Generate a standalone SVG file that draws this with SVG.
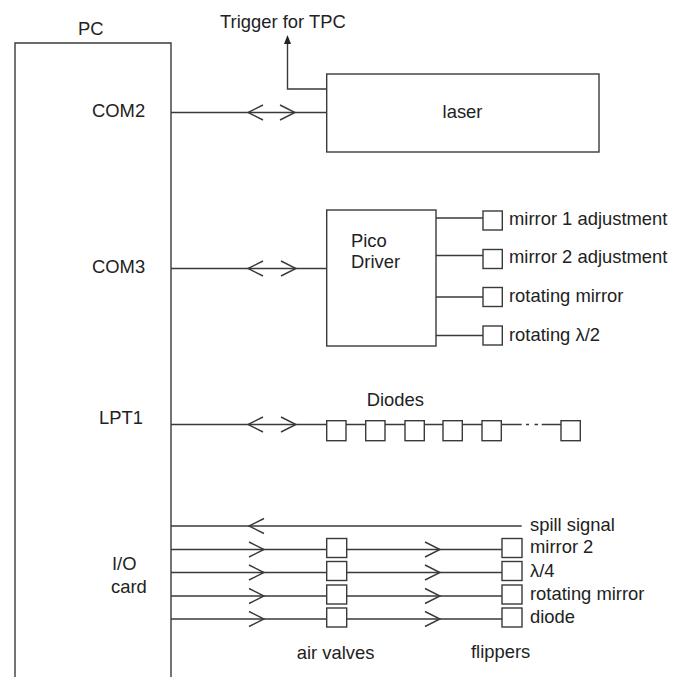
<svg xmlns="http://www.w3.org/2000/svg" width="674" height="677" viewBox="0 0 674 677">
<defs>
<style>
.ln{fill:none;stroke:#3a3a3a;stroke-width:1.4}
.bx{fill:#fff;stroke:#3a3a3a;stroke-width:1.4}
.t{font-family:"Liberation Sans",Arial,sans-serif;font-size:18.4px;fill:#222}
.m{text-anchor:middle}
</style>
</defs>
<rect width="674" height="677" fill="#fff"/>

<g id="connectors">
<!-- trigger -->
<path class="ln" d="M326.7,89 H287.5 V44"/>
<path d="M287.5,35 L284,44 L291,44 Z" fill="#222"/>
<!-- COM2 -->
<path class="ln" d="M171,112.5 H326.7"/>
<polyline class="ln" points="263,105 248,112.5 263,120"/>
<polyline class="ln" points="280,105 295,112.5 280,120"/>
<!-- COM3 -->
<path class="ln" d="M171,268.5 H326.7"/>
<polyline class="ln" points="263,261 248,268.5 263,276"/>
<polyline class="ln" points="281,261 296,268.5 281,276"/>
<!-- Pico outputs -->
<path class="ln" d="M436,218 H483 M436,255.5 H483 M436,297 H483 M436,335.5 H483"/>
<!-- LPT1 -->
<path class="ln" d="M171,424.5 H326.7 M346,424.5 H365.7 M385,424.5 H405 M424.3,424.5 H443 M462.3,424.5 H482 M501.3,424.5 H521.7 M526,424.5 H529 M534.5,424.5 H538 M541.7,424.5 H561"/>
<polyline class="ln" points="263,417 248,424.5 263,432"/>
<polyline class="ln" points="281,417 296,424.5 281,432"/>
<!-- I/O -->
<path class="ln" d="M171,526 H521.7"/>
<polyline class="ln" points="264,518.5 249,526 264,533.5"/>
<path class="ln" d="M171,549.5 H326.7 M346.7,549.5 H502 M171,572.5 H326.7 M346.7,572.5 H502 M171,596 H326.7 M346.7,596 H502 M171,619 H326.7 M346.7,619 H502"/>
<polyline class="ln" points="249,542 264,549.5 249,557"/>
<polyline class="ln" points="249,565 264,572.5 249,580"/>
<polyline class="ln" points="249,588.5 264,596 249,603.5"/>
<polyline class="ln" points="249,611.5 264,619 249,626.5"/>
<polyline class="ln" points="425,542 440,549.5 425,557"/>
<polyline class="ln" points="425,565 440,572.5 425,580"/>
<polyline class="ln" points="425,588.5 440,596 425,603.5"/>
<polyline class="ln" points="425,611.5 440,619 425,626.5"/>
</g>

<g id="pc">
<path class="ln" d="M15,677 V43 H171 V677"/>
<text class="t" x="78" y="35">PC</text>
<text class="t" x="92" y="117">COM2</text>
<text class="t" x="92" y="272.5">COM3</text>
<text class="t" x="99" y="424">LPT1</text>
<text class="t" x="112" y="569.5">I/O</text>
<text class="t" x="111" y="592.7">card</text>
</g>

<g id="trigger">
<text class="t" x="220" y="28">Trigger for TPC</text>
</g>

<g id="laser">
<rect class="bx" x="326.7" y="74" width="272.3" height="78"/>
<text class="t m" x="462.5" y="118">laser</text>
</g>

<g id="pico">
<rect class="bx" x="326.7" y="210" width="109.3" height="136"/>
<text class="t" x="351" y="247">Pico</text>
<text class="t" x="351" y="268">Driver</text>
</g>

<g id="pico-outputs">
<rect class="bx" x="483" y="211" width="19.3" height="19"/>
<text class="t" x="509" y="225">mirror 1 adjustment</text>
<rect class="bx" x="483" y="249.5" width="19.3" height="19"/>
<text class="t" x="509" y="262.7">mirror 2 adjustment</text>
<rect class="bx" x="483" y="287.5" width="19.3" height="19"/>
<text class="t" x="509" y="301.7">rotating mirror</text>
<rect class="bx" x="483" y="326" width="19.3" height="19"/>
<text class="t" x="509" y="340.7">rotating λ/2</text>
</g>

<g id="diodes">
<text class="t" x="366.7" y="405.7">Diodes</text>
<rect class="bx" x="326.7" y="420.7" width="19.3" height="20"/>
<rect class="bx" x="365.7" y="420.7" width="19.3" height="20"/>
<rect class="bx" x="405" y="420.7" width="19.3" height="20"/>
<rect class="bx" x="443" y="420.7" width="19.3" height="20"/>
<rect class="bx" x="482" y="420.7" width="19.3" height="20"/>
<rect class="bx" x="561" y="420.7" width="19.3" height="20"/>
</g>

<g id="air-valves">
<rect class="bx" x="326.7" y="538.5" width="20" height="19"/>
<rect class="bx" x="326.7" y="561.5" width="20" height="19"/>
<rect class="bx" x="326.7" y="585" width="20" height="19"/>
<rect class="bx" x="326.7" y="608" width="20" height="19"/>
<text class="t" x="296.7" y="658.5">air valves</text>
</g>

<g id="flippers">
<rect class="bx" x="502" y="538.5" width="20" height="19"/>
<rect class="bx" x="502" y="561.5" width="20" height="19"/>
<rect class="bx" x="502" y="585" width="20" height="19"/>
<rect class="bx" x="502" y="608" width="20" height="19"/>
<text class="t" x="530" y="530.5">spill signal</text>
<text class="t" x="530" y="553">mirror 2</text>
<text class="t" x="530" y="577">λ/4</text>
<text class="t" x="530" y="600">rotating mirror</text>
<text class="t" x="530" y="623">diode</text>
<text class="t" x="471" y="658">flippers</text>
</g>
</svg>
